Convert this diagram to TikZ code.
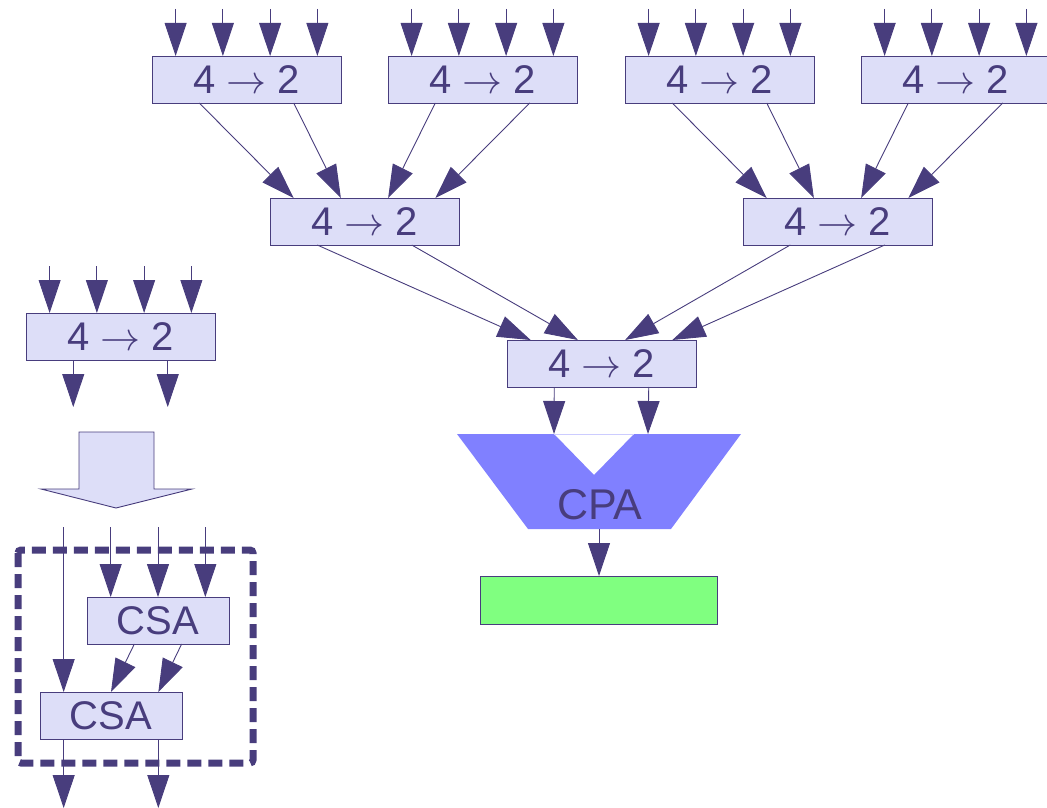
\RequirePackage{fix-cm}
\documentclass[tikz,border=0pt]{standalone}
\usepackage{fontspec}
\setmainfont{Liberation Sans}
\usetikzlibrary{arrows.meta,calc}
\definecolor{dk}{HTML}{483D7D}
\definecolor{bx}{HTML}{DDDEF8}
\definecolor{cpafill}{HTML}{8080FF}
\definecolor{grn}{HTML}{80FF80}
\newcommand{\fourtwo}{4 $\rightarrow$ 2}
\begin{document}
\begin{tikzpicture}[x=1pt,y=-1pt,
  lbl/.style={text=dk,font=\fontsize{40}{48}\selectfont},
  box/.style={lbl,draw=dk,fill=bx,line width=0.9pt,minimum width=189pt,minimum height=47pt,inner sep=0pt,outer sep=0pt,anchor=north west},
  csabox/.style={box,minimum width=142pt},
  arr/.style={draw=dk,line width=0.9pt,-{Triangle[width=22pt,length=33pt]}},
  wire/.style={draw=dk,line width=0.9pt}]
\useasboundingbox (0,0) rectangle (1047,808);
% 4->2 boxes
\node[box] (t1) at (152,56) {\fourtwo};
\node[box] (t2) at (388,56) {\fourtwo};
\node[box] (t3) at (625,56) {\fourtwo};
\node[box] (t4) at (861,56) {\fourtwo};
\node[box] (m1) at (270,198) {\fourtwo};
\node[box] (m2) at (743,198) {\fourtwo};
\node[box] (f) at (507,340) {\fourtwo};
\node[box] (l) at (26,313) {\fourtwo};
\foreach \b in {t1,t2,t3,t4,m1,m2,f,l}{
  \foreach \i in {1,2,3,4}
    \coordinate (\b-i\i) at ($(\b.north west)!{(2*\i-1)/8}!(\b.north east)$);
  \coordinate (\b-o1) at ($(\b.south west)!0.25!(\b.south east)$);
  \coordinate (\b-o2) at ($(\b.south west)!0.75!(\b.south east)$);
}
% top inputs
\foreach \b in {t1,t2,t3,t4}
  \foreach \i in {1,2,3,4}
    \draw[arr] ($(\b-i\i)+(0,-47)$) -- (\b-i\i);
% left inputs / outputs
\foreach \i in {1,2,3,4}
  \draw[arr] ($(l-i\i)+(0,-47)$) -- (l-i\i);
\draw[arr] (l-o1) -- ($(l-o1)+(0,47)$);
\draw[arr] (l-o2) -- ($(l-o2)+(0,47)$);
% tree connections
\draw[arr] (t1-o1) -- (m1-i1);
\draw[arr] (t1-o2) -- (m1-i2);
\draw[arr] (t2-o1) -- (m1-i3);
\draw[arr] (t2-o2) -- (m1-i4);
\draw[arr] (t3-o1) -- (m2-i1);
\draw[arr] (t3-o2) -- (m2-i2);
\draw[arr] (t4-o1) -- (m2-i3);
\draw[arr] (t4-o2) -- (m2-i4);
\draw[arr] (m1-o1) -- (f-i1);
\draw[arr] (m1-o2) -- (f-i2);
\draw[arr] (m2-o1) -- (f-i3);
\draw[arr] (m2-o2) -- (f-i4);
% CPA
\coordinate (cpaA) at (457,434);
\coordinate (cpaL) at (554,434);
\coordinate (cpaN) at (594,475);
\coordinate (cpaD) at (634,434);
\coordinate (cpaR) at (648,434);
\coordinate (cpaE) at (741,434);
\coordinate (cpaF) at (671,529);
\coordinate (cpaG) at (528,529);
\coordinate (cpabot) at (599,529);
\fill[cpafill] (cpaA) -- (cpaL) -- (cpaN) -- (cpaD) -- (cpaE) -- (cpaF) -- (cpaG) -- cycle;
\draw[cpafill!40,line width=0.6pt] (cpaL) -- (cpaD);
\node[lbl,font=\fontsize{43}{50}\selectfont] (cpa) at (600,505) {CPA};
\draw[arr] (f-o1) -- (cpaL);
\draw[arr] (f-o2) -- (cpaR);
\node[draw=dk,fill=grn,line width=0.9pt,minimum width=237pt,minimum height=48pt,inner sep=0pt,outer sep=0pt,anchor=north west] (res) at (480,576) {};
\draw[arr] (cpabot) -- (cpabot |- res.north);
% block arrow
\draw[dk,fill=bx,line width=0.9pt] (79,432) -- (154,432) -- (154,489) -- (192,489) -- (116,508) -- (41,489) -- (79,489) -- cycle;
% dashed frame
\draw[dk,line width=7pt,dash pattern=on 14pt off 7pt,rounded corners=3pt] (18,550) rectangle (253,763);
% CSA boxes
\node[csabox] (cs1) at (87,597) {CSA};
\node[csabox] (cs2) at (40,692) {CSA};
\foreach \b in {cs1,cs2}{
  \coordinate (\b-i1) at ($(\b.north west)!{1/6}!(\b.north east)$);
  \coordinate (\b-i2) at ($(\b.north west)!0.5!(\b.north east)$);
  \coordinate (\b-i3) at ($(\b.north west)!{5/6}!(\b.north east)$);
}
\coordinate (cs1-o1) at ($(cs1.south west)!{1/3}!(cs1.south east)$);
\coordinate (cs1-o2) at ($(cs1.south west)!{2/3}!(cs1.south east)$);
\coordinate (cs2-o1) at ($(cs2.south west)!{1/6}!(cs2.south east)$);
\coordinate (cs2-o2) at ($(cs2.south west)!{5/6}!(cs2.south east)$);
\draw[arr] ($(cs2-i1)+(0,-165)$) -- (cs2-i1);
\foreach \i in {1,2,3}
  \draw[arr] ($(cs1-i\i)+(0,-70)$) -- (cs1-i\i);
\draw[arr] (cs1-o1) -- (cs2-i2);
\draw[arr] (cs1-o2) -- (cs2-i3);
\draw[arr] (cs2-o1) -- ($(cs2-o1)+(0,69)$);
\draw[arr] (cs2-o2) -- ($(cs2-o2)+(0,69)$);
\end{tikzpicture}
\end{document}
